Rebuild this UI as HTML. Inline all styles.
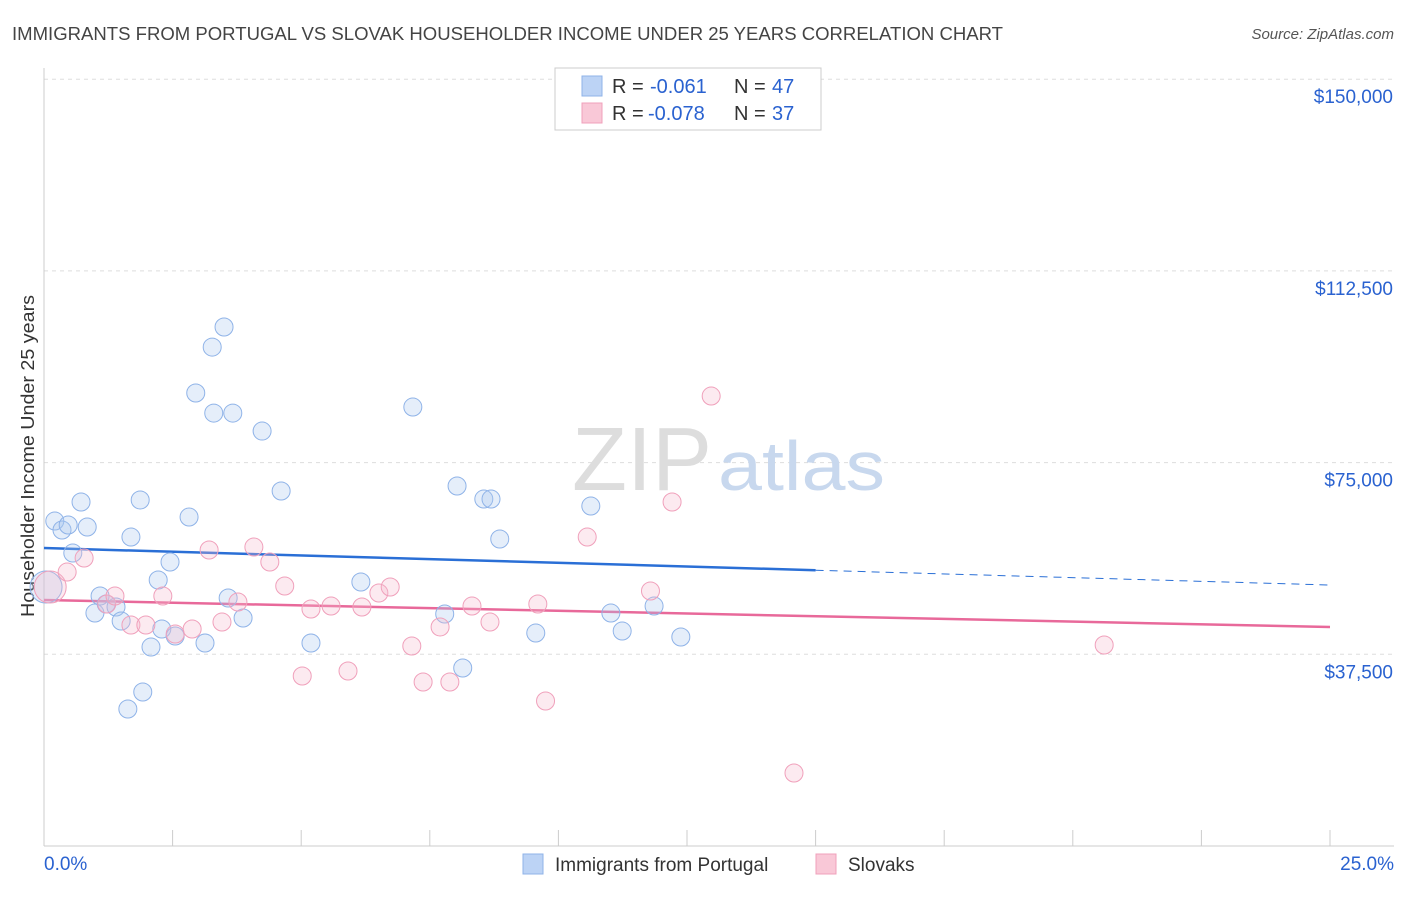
<!DOCTYPE html>
<html><head><meta charset="utf-8"><style>
body{margin:0;background:#fff;font-family:"Liberation Sans",sans-serif}
svg text{font-family:"Liberation Sans",sans-serif}
</style></head><body>
<svg id="chart" width="1406" height="892">
<text x="12" y="40" font-size="18" fill="#444" textLength="991" lengthAdjust="spacingAndGlyphs">IMMIGRANTS FROM PORTUGAL VS SLOVAK HOUSEHOLDER INCOME UNDER 25 YEARS CORRELATION CHART</text>
<text x="1394" y="39" font-size="15" fill="#555" font-style="italic" text-anchor="end">Source: ZipAtlas.com</text>
<text x="34" y="617" font-size="18" fill="#333" textLength="322" lengthAdjust="spacingAndGlyphs" transform="rotate(-90 34 617)">Householder Income Under 25 years</text>
<g id="grid"></g>
<text x="712" y="490" font-size="90" fill="#ddd" text-anchor="end" font-family="Liberation Serif">ZIP</text>
<text x="718" y="490" font-size="70" fill="#c8d8ee" textLength="167" lengthAdjust="spacingAndGlyphs">atlas</text>
<g id="trend"></g>
<g id="points"></g>
<g>
<rect x="555" y="68" width="266" height="62" fill="#fff" stroke="#ccc"/>
<rect x="582" y="76" width="20" height="20" fill="#bcd3f5" stroke="#8fb3e8"/>
<text x="612" y="93" font-size="20" fill="#333">R =</text>
<text x="650" y="93" font-size="20" fill="#2a62d0">-0.061</text>
<text x="734" y="93" font-size="20" fill="#333">N =</text>
<text x="772" y="93" font-size="20" fill="#2a62d0">47</text>
<rect x="582" y="103" width="20" height="20" fill="#f9c8d7" stroke="#f0a0bb"/>
<text x="612" y="120" font-size="20" fill="#333">R =</text>
<text x="648" y="120" font-size="20" fill="#2a62d0">-0.078</text>
<text x="734" y="120" font-size="20" fill="#333">N =</text>
<text x="772" y="120" font-size="20" fill="#2a62d0">37</text>
</g>
<g>
<rect x="523" y="854" width="20" height="20" fill="#bcd3f5" stroke="#8fb3e8"/>
<text x="555" y="871" font-size="19" fill="#333">Immigrants from Portugal</text>
<rect x="816" y="854" width="20" height="20" fill="#f9c8d7" stroke="#f0a0bb"/>
<text x="848" y="871" font-size="19" fill="#333">Slovaks</text>
</g>
</svg>
<script>
const yTicks=[37500,75000,112500,150000];
const yTickLabels=["$37,500","$75,000","$112,500","$150,000"];
const xTickLabels=["0.0%","25.0%"];
const blueX=[0.04,0.21,0.35,0.47,0.84,0.56,0.72,1.09,0.99,1.21,1.40,1.50,1.87,1.69,2.22,2.45,2.08,2.29,2.55,1.92,1.63,2.95,2.82,3.27,3.50,3.30,3.67,4.24,3.13,3.58,3.87,4.61,5.19,6.16,7.17,7.79,8.03,8.14,8.55,8.69,8.86,9.56,10.63,11.02,11.24,11.86,12.38];
const blueY=[50660,63570,61810,62790,62400,57310,67290,48900,45570,47340,46750,44010,67680,60440,52030,55550,38920,42450,41080,30120,26800,88610,64350,97600,101520,84690,84690,81170,39710,48510,44600,69440,39710,51640,85870,45380,70420,34820,67870,67870,60050,41660,66500,45570,42050,46940,40880];
const pinkX=[0.12,0.45,0.78,1.22,1.38,1.69,1.98,2.31,2.55,2.88,3.21,3.46,3.77,4.08,4.39,4.68,5.02,5.19,5.58,5.91,6.18,6.51,6.73,7.15,7.37,7.70,7.89,8.32,8.67,9.60,9.75,10.56,11.79,12.21,12.97,14.58,20.61];
const pinkY=[50660,53590,56330,47340,48900,43230,43230,48900,41470,42450,57900,43810,47730,58480,55550,50860,33250,46360,46940,34230,46750,49490,50660,39120,32080,42840,32080,46940,43810,47340,28360,60440,49880,67290,88020,14280,39320];
const blueTrend=[58290,51050];
const pinkTrend=[48120,42840];
const NS="http://www.w3.org/2000/svg";
const X=v=>44+v/25*1286;
const Y=v=>846-v/37500*191.7;
function mk(t,a,p){const e=document.createElementNS(NS,t);for(const k in a)e.setAttribute(k,a[k]);p.appendChild(e);return e;}
const grid=document.getElementById('grid');
yTicks.forEach((t,i)=>{
 const l=mk('line',{x1:44,x2:1394,y1:Y(t),y2:Y(t),stroke:'#ddd','stroke-dasharray':'4 4'},grid);
 
 
 const tx=mk('text',{x:1393,y:Y(t)+24,'font-size':19,fill:'#2a62d0','text-anchor':'end'},grid);
 tx.textContent=yTickLabels[i];
 
 
});
mk('line',{x1:44,x2:44,y1:68,y2:846,stroke:'#ccc'},grid);
mk('line',{x1:44,x2:1394,y1:846,y2:846,stroke:'#ccc'},grid);
for(let i=0;i<=10;i++){
 const t=mk('line',{x1:X(i*2.5),x2:X(i*2.5),y1:830,y2:846,stroke:'#ccc'},grid);
 
 
}
[[0,44,'start'],[1,1394,'end']].forEach(([i,x,a])=>{
 const t=mk('text',{x:x,y:870,'font-size':19,fill:'#2a62d0','text-anchor':a},grid);
 t.textContent=xTickLabels[i];
 
 
});
const tr=document.getElementById('trend');
const bAt=x=>blueTrend[0]+(blueTrend[1]-blueTrend[0])*x/25;
let bl=mk('line',{x1:X(0),y1:Y(bAt(0)),x2:X(15),y2:Y(bAt(15)),stroke:'#2a6fd6','stroke-width':2.5},tr);


bl=mk('line',{x1:X(15),y1:Y(bAt(15)),x2:X(25),y2:Y(bAt(25)),stroke:'#2a6fd6','stroke-width':1,'stroke-dasharray':'8 6'},tr);


const pl=mk('line',{x1:X(0),y1:Y(pinkTrend[0]),x2:X(25),y2:Y(pinkTrend[1]),stroke:'#e8699a','stroke-width':2.5},tr);


const pts=document.getElementById('points');
function draw(xs,ys,fill,stroke,name){
 xs.forEach((x,i)=>{
  const c=mk('circle',{cx:X(x),cy:Y(ys[i]),r:i===0?16:9,fill:fill,stroke:stroke,'stroke-width':1},pts);
  
  
 });
}
draw(blueX,blueY,'rgba(170,198,240,0.3)','#8fb3e8','portugal-point');
draw(pinkX,pinkY,'rgba(246,186,206,0.3)','#f0a0bb','slovak-point');
</script>
</body></html>
